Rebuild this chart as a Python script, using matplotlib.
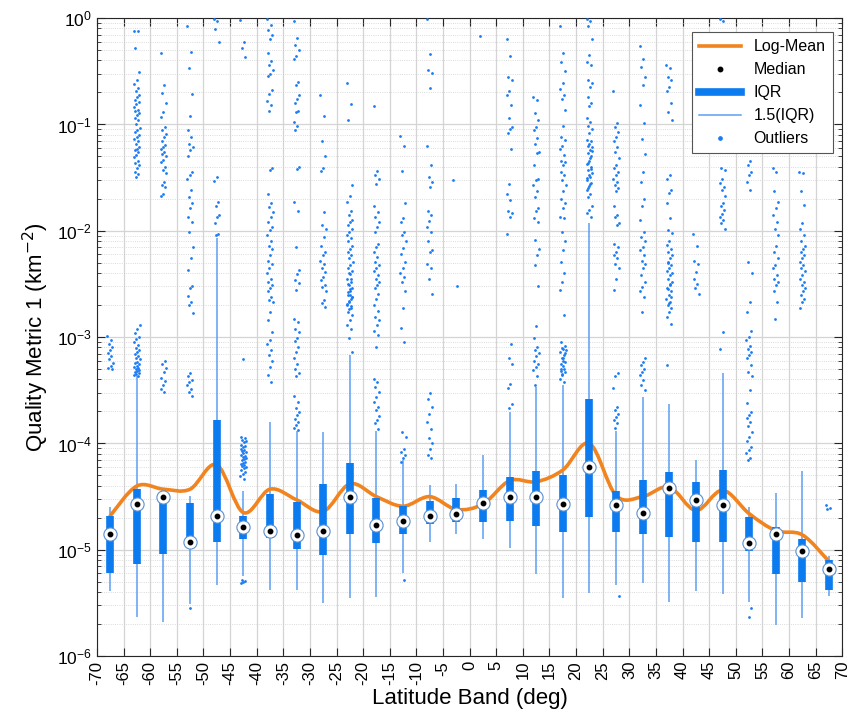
import numpy as np
import matplotlib
matplotlib.use('Agg')
import matplotlib.pyplot as plt
from matplotlib.path import Path
from matplotlib.patches import PathPatch
from matplotlib.lines import Line2D

plt.rcParams['font.family'] = ['Liberation Sans', 'DejaVu Sans']

# latitude band centres (deg)
bands = [-67.5, -62.5, -57.5, -52.5, -47.5, -42.5, -37.5, -32.5, -27.5, -22.5,
         -17.5, -12.5, -7.5, -2.5, 2.5, 7.5, 12.5, 17.5, 22.5, 27.5,
         32.5, 37.5, 42.5, 47.5, 52.5, 57.5, 62.5, 67.5]

# all values below are log10 of the metric
whisk_lo = [-5.39, -5.63, -5.68, -5.51, -5.33, -5.25, -5.38, -5.38, -5.50, -5.45,
            -5.44, -5.22, -4.93, -4.85, -4.90, -4.98, -5.23, -5.45, -5.41, -5.33,
            -5.31, -5.49, -5.39, -5.42, -5.49, -5.71, -5.64, -5.43]
q1 = [-5.22, -5.13, -5.04, -4.97, -4.93, -4.90, -4.89, -4.99, -5.05, -4.85,
      -4.94, -4.85, -4.76, -4.74, -4.74, -4.73, -4.78, -4.83, -4.69, -4.83,
      -4.85, -4.88, -4.93, -4.93, -5.01, -5.23, -5.30, -5.38]
median = [-4.85, -4.57, -4.50, -4.93, -4.68, -4.79, -4.82, -4.86, -4.82, -4.50,
          -4.77, -4.73, -4.68, -4.66, -4.56, -4.50, -4.50, -4.57, -4.22, -4.58,
          -4.65, -4.42, -4.53, -4.58, -4.94, -4.85, -5.01, -5.18]
q3 = [-4.68, -4.43, -4.47, -4.56, -3.78, -4.68, -4.48, -4.55, -4.38, -4.18,
      -4.51, -4.59, -4.54, -4.51, -4.44, -4.32, -4.26, -4.30, -3.58, -4.45,
      -4.34, -4.27, -4.36, -4.25, -4.69, -4.79, -4.90, -5.10]
whisk_hi = [-4.60, -3.37, -4.42, -4.49, -2.07, -4.45, -3.80, -3.88, -3.89, -3.17,
            -3.88, -4.16, -4.39, -4.38, -4.11, -3.70, -3.47, -3.45, -1.93, -3.88,
            -3.56, -3.63, -4.16, -3.34, -4.60, -4.47, -4.26, -5.06]
log_mean = [-4.68, -4.40, -4.43, -4.43, -4.20, -4.65, -4.43, -4.53, -4.64, -4.38,
            -4.50, -4.59, -4.50, -4.62, -4.57, -4.35, -4.36, -4.25, -4.00, -4.49,
            -4.50, -4.41, -4.63, -4.44, -4.66, -4.82, -4.86, -5.11]

outliers = [
    [-2.99, -3.03, -3.06, -3.09, -3.12, -3.15, -3.18, -3.21, -3.24, -3.27, -3.29, -3.30],
    [-0.12, -0.12, -0.28, -0.51, -0.58, -0.62, -0.66, -0.69, -0.72, -0.74, -0.77, -0.79,
     -0.81, -0.84, -0.86, -0.87, -0.89, -0.91, -0.94, -0.96, -1.0, -1.03, -1.05, -1.07,
     -1.1, -1.12, -1.14, -1.16, -1.18, -1.21, -1.23, -1.24, -1.26, -1.29, -1.31, -1.34,
     -1.36, -1.38, -1.41, -1.45, -1.47, -1.49,
     -2.89, -2.92, -2.96, -3.0, -3.02, -3.05, -3.07, -3.1, -3.12, -3.14, -3.16, -3.18,
     -3.2, -3.21, -3.23, -3.24, -3.25, -3.27, -3.28, -3.29, -3.3, -3.31, -3.32, -3.33,
     -3.34, -3.35, -3.36, -3.37],
    [-0.33, -0.63, -0.70, -0.80, -0.88, -0.93, -1.02, -1.05, -1.09, -1.12, -1.16, -1.19,
     -1.21, -1.23, -1.26, -1.28, -1.30, -1.33, -1.35, -1.40, -1.43, -1.46, -1.54, -1.57,
     -1.59, -1.65, -1.67, -3.22, -3.25, -3.29, -3.33, -3.38, -3.41, -3.45, -3.49, -3.52],
    [-0.07, -0.32, -0.47, -0.71, -0.92, -1.05, -1.12, -1.18, -1.21, -1.24, -1.30, -1.45,
     -1.48, -1.51, -1.62, -1.68, -1.74, -1.79, -1.87, -1.92, -2.01, -2.15, -2.26, -2.37,
     -2.52, -2.54, -2.61, -2.67, -2.70, -2.77, -3.34, -3.37, -3.40, -3.42, -3.45, -3.49,
     -3.52, -3.55, -5.55],
    [-0.01, -0.03, -0.10, -0.22, -1.49, -1.53, -1.73, -1.77, -1.85, -1.87, -1.93, -2.03, -2.04],
    [-0.02, -0.22, -0.28, -0.37, -3.21, -3.94, -3.95, -3.97, -3.98, -3.99, -4.01, -4.02,
     -4.03, -4.05, -4.06, -4.07, -4.08, -4.09, -4.11, -4.12, -4.13, -4.14, -4.15, -4.16,
     -4.17, -4.18, -4.19, -4.2, -4.21, -4.22, -4.23, -4.25, -4.27, -4.29, -4.31, -4.33,
     -5.28, -5.29, -5.30, -5.31],
    [-0.01, -0.06, -0.11, -0.16, -0.20, -0.33, -0.40, -0.44, -0.49, -0.53, -0.54, -0.68,
     -0.71, -0.78, -0.82, -0.87, -1.41, -1.43, -1.65, -1.74, -1.78, -1.82, -1.87, -1.92,
     -1.96, -1.99, -2.04, -2.10, -2.14, -2.17, -2.23, -2.28, -2.31, -2.35, -2.40, -2.45,
     -2.48, -2.51, -2.54, -2.57, -2.62, -2.65, -2.67, -2.76, -2.84, -2.95, -3.03, -3.06,
     -3.12, -3.17, -3.22, -3.28, -3.36, -3.42],
    [-0.03, -0.19, -0.25, -0.30, -0.36, -0.38, -0.60, -0.63, -0.72, -0.76, -0.80, -0.87,
     -0.88, -0.98, -1.01, -1.05, -1.40, -1.42, -1.73, -1.81, -2.15, -2.37, -2.41, -2.46,
     -2.49, -2.56, -2.83, -2.86, -2.92, -2.95, -3.01, -3.04, -3.09, -3.14, -3.20, -3.25,
     -3.30, -3.34, -3.37, -3.55, -3.61, -3.67, -3.70, -3.73, -3.77, -3.80, -3.83, -3.85, -3.87],
    [-0.72, -0.92, -1.16, -1.30, -1.41, -1.44, -1.82, -1.95, -1.98, -2.06, -2.14, -2.20,
     -2.23, -2.28, -2.31, -2.35, -2.39, -2.43, -2.46, -2.51, -2.53, -2.57, -2.65, -2.68, -2.72],
    [-0.61, -0.81, -0.96, -1.57, -1.67, -1.73, -1.81, -1.85, -1.90, -1.92, -1.95, -1.98,
     -2.01, -2.04, -2.07, -2.10, -2.14, -2.17, -2.20, -2.23, -2.26, -2.29, -2.32, -2.35,
     -2.38, -2.41, -2.45, -2.48, -2.51, -2.54, -2.57, -2.60, -2.64, -2.67, -2.70, -2.73,
     -2.76, -2.79, -2.84, -2.89, -2.92, -3.01, -3.14, -2.55, -2.58, -2.62, -2.66, -2.69,
     -2.71, -2.74, -2.62, -2.60, -2.50, -2.45, -2.40],
    [-0.83, -1.44, -1.48, -1.51, -1.56, -1.77, -1.82, -1.87, -1.92, -1.96, -2.01, -2.12,
     -2.15, -2.20, -2.25, -2.29, -2.32, -2.35, -2.38, -2.42, -2.45, -2.48, -2.51, -2.54,
     -2.59, -2.64, -2.70, -2.75, -2.81, -2.84, -2.89, -2.94, -2.98, -3.09, -3.39, -3.42,
     -3.47, -3.52, -3.56, -3.61, -3.66, -3.69, -3.74, -3.78, -3.81, -3.86],
    [-1.11, -1.20, -1.44, -1.74, -1.88, -1.92, -2.01, -2.04, -2.10, -2.16, -2.22, -2.29,
     -2.35, -2.40, -2.43, -2.48, -2.57, -2.73, -2.91, -3.05, -3.89, -3.94, -4.05, -4.08,
     -4.11, -4.14, -4.17, -5.28],
    [-0.01, -0.34, -0.49, -0.52, -0.66, -1.20, -1.38, -1.49, -1.54, -1.59, -1.81, -1.85,
     -1.91, -1.96, -2.01, -2.10, -2.18, -2.20, -2.31, -2.35, -2.45, -2.59, -3.53, -3.58,
     -3.66, -3.72, -3.80, -3.86, -3.95, -4.00, -4.05, -4.11, -4.14],
    [-1.52, -2.52],
    [-0.17],
    [-0.20, -0.36, -0.55, -0.58, -0.69, -0.72, -0.82, -0.94, -1.02, -1.04, -1.08, -1.23,
     -1.56, -1.65, -1.71, -1.81, -1.83, -1.87, -2.03, -3.06, -3.20, -3.25, -3.44, -3.48,
     -3.63, -3.67],
    [-0.74, -0.77, -0.89, -0.96, -1.02, -1.05, -1.13, -1.18, -1.26, -1.27, -1.38, -1.51,
     -1.52, -1.57, -1.63, -1.68, -1.79, -1.81, -1.88, -1.92, -2.09, -2.17, -2.23, -2.32,
     -2.52, -2.90, -3.01, -3.09, -3.12, -3.15, -3.18, -3.22, -3.25, -3.28, -3.31, -3.37, -3.45],
    [-0.07, -0.33, -0.41, -0.50, -0.61, -0.67, -0.72, -0.76, -0.86, -1.01, -1.12, -1.15,
     -1.20, -1.23, -1.29, -1.34, -1.35, -1.38, -1.45, -1.48, -1.52, -1.57, -1.63, -1.70,
     -1.74, -1.79, -1.87, -1.88, -2.01, -2.10, -2.18, -2.29, -2.40, -2.48, -2.56, -2.79,
     -3.05, -3.08, -3.11, -3.14, -3.17, -3.20, -3.23, -3.27, -3.30, -3.33, -3.36, -3.39,
     -3.42, -3.10, -3.15, -3.20, -3.25, -3.30, -3.35, -3.12, -3.22, -3.32],
    [-0.01, -0.03, -0.07, -0.20, -0.35, -0.41, -0.44, -0.58, -0.61, -0.65, -0.74, -0.80,
     -0.83, -0.94, -0.98, -1.01, -1.04, -1.08, -1.15, -1.16, -1.18, -1.21, -1.24, -1.27,
     -1.30, -1.34, -1.37, -1.40, -1.43, -1.46, -1.49, -1.52, -1.55, -1.58, -1.62, -1.65,
     -1.68, -1.77, -1.80, -1.83, -1.87, -1.20, -1.25, -1.32, -1.36, -1.42, -1.48, -1.50,
     -1.56, -1.60],
    [-0.69, -0.99, -1.02, -1.07, -1.12, -1.16, -1.21, -1.26, -1.32, -1.38, -1.41, -1.45,
     -1.48, -1.51, -1.54, -1.57, -1.60, -1.63, -1.77, -1.85, -1.87, -1.93, -1.95, -2.12,
     -2.15, -2.20, -2.23, -2.26, -2.31, -2.35, -2.45, -2.56, -3.34, -3.37, -3.48, -3.66,
     -3.69, -3.72, -3.75, -3.78, -3.81, -3.85, -5.43],
    [-0.26, -0.38, -0.46, -0.55, -0.63, -0.82, -0.99, -1.14, -1.28, -1.45, -1.54, -1.70,
     -1.77, -1.90, -2.01, -2.06, -2.10, -2.15, -2.18, -2.23, -2.28, -2.31, -2.35, -2.42,
     -2.48, -2.53, -2.57, -2.62, -2.76, -3.20, -3.23, -3.26, -3.30, -3.33, -3.36, -3.40,
     -3.45, -3.50],
    [-0.44, -0.47, -0.55, -0.58, -0.65, -0.69, -0.80, -0.88, -0.96, -1.48, -1.51, -1.62,
     -1.64, -1.74, -1.88, -1.99, -2.02, -2.10, -2.13, -2.17, -2.20, -2.23, -2.26, -2.29,
     -2.32, -2.35, -2.38, -2.42, -2.45, -2.48, -2.51, -2.54, -2.57, -2.60, -2.64, -2.67,
     -2.70, -2.73, -2.76, -2.81, -2.88, -2.30, -2.40, -2.50, -2.55, -2.62, -2.68, -3.26],
    [-2.03, -2.14, -2.28, -2.31, -2.39, -2.45, -2.50, -2.54, -2.59],
    [-0.01, -0.03, -1.41, -1.43, -1.51, -1.55, -1.59, -1.62, -1.67, -1.74, -1.77, -1.80,
     -1.84, -1.87, -1.90, -1.93, -1.98, -2.95, -3.11],
    [-0.14, -1.34, -1.38, -1.45, -1.48, -1.54, -1.62, -2.29, -2.40, -2.67, -2.76, -2.94,
     -3.00, -3.03, -3.08, -3.11, -3.14, -3.17, -3.20, -3.26, -3.33, -3.37, -3.50, -3.62,
     -3.70, -3.73, -3.76, -3.80, -3.84, -3.89, -3.94, -3.98, -4.03, -4.06, -4.09, -4.14,
     -4.16, -5.55, -5.63],
    [-1.41, -1.45, -1.63, -1.73, -1.79, -1.85, -1.92, -1.98, -2.04, -2.14, -2.20, -2.26,
     -2.32, -2.35, -2.42, -2.45, -2.48, -2.51, -2.57, -2.67, -2.83],
    [-1.45, -1.46, -1.63, -1.76, -1.93, -1.98, -2.04, -2.10, -2.14, -2.17, -2.20, -2.23,
     -2.26, -2.29, -2.32, -2.35, -2.38, -2.42, -2.45, -2.48, -2.51, -2.54, -2.57, -2.60,
     -2.64, -2.67, -2.73],
    [-4.58, -4.61, -4.62],
]

BOX_BLUE = '#0b7bef'
WHISK_BLUE = '#5b9ff2'
DOT_BLUE = '#1a7cf5'
ORANGE = '#f2841f'

fig = plt.figure(figsize=(8.5, 7.25), dpi=100)
ax = fig.add_axes([0.114, 0.095, 0.877, 0.880])
ax.set_yscale('log')

x = np.array(bands)

# whiskers and IQR boxes
ax.vlines(x, 10.0 ** np.array(whisk_lo), 10.0 ** np.array(whisk_hi),
          color=WHISK_BLUE, lw=1.1, zorder=3)
ax.vlines(x, 10.0 ** np.array(q1), 10.0 ** np.array(q3),
          color=BOX_BLUE, lw=5.5, zorder=5)

# outliers with a fixed horizontal spread
for xc, vals in zip(bands, outliers):
    k = np.arange(len(vals))
    jit = ((k * 0.6180339) % 1.0 - 0.5) * 1.1
    ax.scatter(xc + jit, 10.0 ** np.array(vals), s=4, color=DOT_BLUE,
               linewidths=0, zorder=4)

# smooth log-mean curve (Catmull-Rom through the band values, in log space)
ly = np.array(log_mean)
px = np.concatenate([[x[0]], x, [x[-1]]])
py = np.concatenate([[ly[0]], ly, [ly[-1]]])
verts = [(x[0], 10.0 ** ly[0])]
codes = [Path.MOVETO]
for i in range(1, len(px) - 2):
    c1 = (px[i] + (px[i + 1] - px[i - 1]) / 6, py[i] + (py[i + 1] - py[i - 1]) / 6)
    c2 = (px[i + 1] - (px[i + 2] - px[i]) / 6, py[i + 1] - (py[i + 2] - py[i]) / 6)
    verts += [(c1[0], 10.0 ** c1[1]), (c2[0], 10.0 ** c2[1]), (px[i + 1], 10.0 ** py[i + 1])]
    codes += [Path.CURVE4] * 3
ax.add_patch(PathPatch(Path(verts, codes), fill=False, edgecolor=ORANGE,
                       lw=2.6, zorder=4.5, capstyle='round', joinstyle='round'))

# medians
ax.plot(x, 10.0 ** np.array(median), 'o', ms=9.5, mfc='white', mec='#5a8fd0',
        mew=0.8, zorder=6, ls='none')
ax.plot(x, 10.0 ** np.array(median), 'o', ms=3.2, color='black', zorder=7, ls='none')

ax.set_xlim(-70, 70)
ax.set_ylim(1e-6, 1)
ax.set_xticks(np.arange(-70, 71, 5))
ax.set_xticklabels([str(v) for v in range(-70, 71, 5)], rotation=90, fontsize=12)
ax.tick_params(axis='y', labelsize=12.5)
ax.tick_params(which='both', direction='in', top=True, right=True, color='#262626')
ax.tick_params(which='major', length=6, width=0.8)
ax.tick_params(which='minor', length=3, width=0.6)
ax.grid(True, which='major', color='#d4d4d4', lw=0.9)
ax.grid(True, which='minor', axis='y', color='#cfcfcf', lw=0.6, ls=':')
ax.set_axisbelow(True)
for s in ax.spines.values():
    s.set_color('#262626')
    s.set_linewidth(0.8)

ax.set_xlabel('Latitude Band (deg)', fontsize=16, labelpad=2)
ax.set_ylabel('Quality Metric 1 (km$^{-2}$)', fontsize=16)

handles = [
    Line2D([], [], color=ORANGE, lw=2.6),
    Line2D([], [], color='black', marker='o', ms=3.2, ls='none'),
    Line2D([], [], color=BOX_BLUE, lw=5.5),
    Line2D([], [], color=WHISK_BLUE, lw=1.1),
    Line2D([], [], color=DOT_BLUE, marker='o', ms=2.4, ls='none'),
]
leg = ax.legend(handles, ['Log-Mean', 'Median', 'IQR', '1.5(IQR)', 'Outliers'],
                loc='upper right', bbox_to_anchor=(0.987, 0.978), borderaxespad=0,
                fontsize=11.5, fancybox=False, framealpha=1, edgecolor='#555555',
                handlelength=2.6, labelspacing=0.5, borderpad=0.45)
leg.get_frame().set_linewidth(0.8)
leg.set_zorder(10)

fig.savefig('out.png', dpi=100)
